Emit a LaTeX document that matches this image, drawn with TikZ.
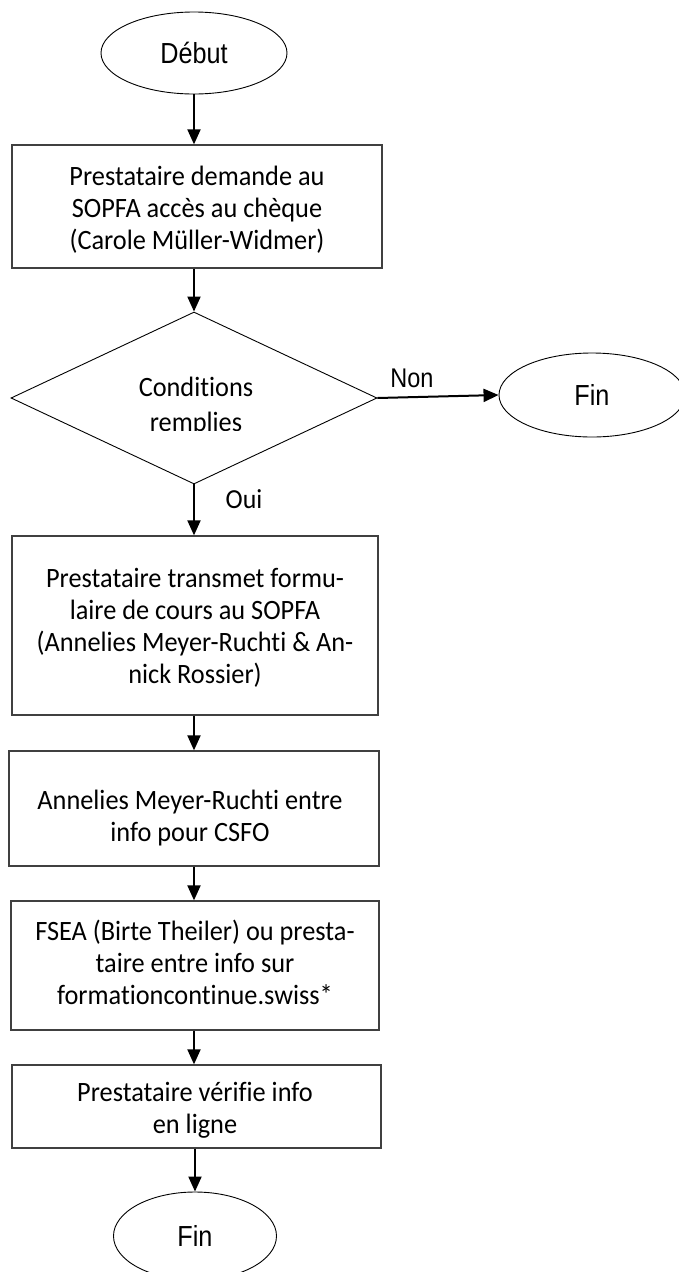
\documentclass[tikz,border=0pt]{standalone}
\usepackage{fontspec}
\setmainfont{Carlito}[Ligatures=NoCommon]
\newfontfamily\boxf{Carlito}[Ligatures=NoCommon,FakeStretch=0.94]
\newfontfamily\arialf{Liberation Sans}
\newfontfamily\arialn{Liberation Sans}[FakeStretch=0.87]
\usetikzlibrary{arrows.meta,shapes.geometric}
\begin{document}
\begin{tikzpicture}[x=1pt,y=-1pt,
  boxstyle/.style={draw=black!75,line width=1.3pt,rectangle,inner sep=0pt},
  ovalstyle/.style={draw=black,line width=0.9pt,ellipse,inner sep=0pt,
     font=\arialn\fontsize{29}{32}\selectfont},
  txtstyle/.style={align=center,inner sep=0pt,font=\boxf\fontsize{28}{32}\selectfont},
  lblstyle/.style={inner sep=0pt},
  flow/.style={draw=black,line width=2pt,-{Triangle[width=13pt,length=15pt]}}]
\useasboundingbox (0,0) rectangle (679,1272);
% start / end ovals
\node[ovalstyle,minimum width=186pt,minimum height=82pt] (debut) at (194,53) {Début};
\node[ovalstyle,minimum width=186pt,minimum height=84pt] (finA) at (592,395) {Fin};
\node[ovalstyle,minimum width=163pt,minimum height=88pt] (finB) at (195,1236) {Fin};
% boxes
\node[boxstyle,minimum width=370pt,minimum height=123pt] (b1) at (197,206.5) {};
\node[boxstyle,minimum width=366pt,minimum height=179pt] (b2) at (195,625.5) {};
\node[boxstyle,minimum width=370pt,minimum height=115pt] (b3) at (194,808.5) {};
\node[boxstyle,minimum width=368pt,minimum height=129pt] (b4) at (195,965.5) {};
\node[boxstyle,minimum width=369pt,minimum height=83pt] (b5) at (196.5,1106.5) {};
% box texts
\node[txtstyle] (t1) at (197,210) {Prestataire demande au\\SOPFA accès au chèque\\(Carole Müller-Widmer)};
\node[txtstyle] (t2) at (195,628) {Prestataire transmet formu-\\laire de cours au SOPFA\\(Annelies Meyer-Ruchti \& An-\\nick Rossier)};
\node[txtstyle] (t3) at (190,818) {Annelies Meyer-Ruchti entre\\info pour CSFO};
\node[txtstyle] (t4) at (195,962) {FSEA (Birte Theiler) ou presta-\\taire entre info sur\\formationcontinue.swiss*};
\node[txtstyle] (t5) at (195,1110) {Prestataire vérifie info\\en ligne};
% decision
\node[draw=black,line width=0.9pt,diamond,inner sep=0pt,minimum width=366pt,minimum height=172pt] (dec) at (194,398) {};
\begin{scope}
\clip (100,350) rectangle (300,430.5);
\node[lblstyle,anchor=base,font=\boxf\fontsize{28}{32}\selectfont] (c1) at (196,396) {Conditions};
\node[lblstyle,anchor=base,font=\boxf\fontsize{28}{32}\selectfont] (c2) at (196,431) {remplies};
\end{scope}
% connectors
\draw[flow] (debut.south) -- (b1.north -| debut.south);
\draw[flow] (b1.south -| dec.north) -- (dec.north);
\draw[flow] (dec.south) -- (b2.north -| dec.south);
\draw[flow] (b2.south -| dec.south) -- (b3.north -| dec.south);
\draw[flow] (b3.south -| dec.south) -- (b4.north -| dec.south);
\draw[flow] (b4.south -| dec.south) -- (b5.north -| dec.south);
\draw[flow] (b5.south -| finB.north) -- (finB.north);
\draw[flow] (dec.east) -- (finA.west);
% labels
\node[lblstyle,font=\arialn\fontsize{27}{30}\selectfont] (non) at (412,378) {Non};
\node[lblstyle,font=\boxf\fontsize{27.5}{30}\selectfont] (oui) at (244,499) {Oui};
\end{tikzpicture}
\end{document}
